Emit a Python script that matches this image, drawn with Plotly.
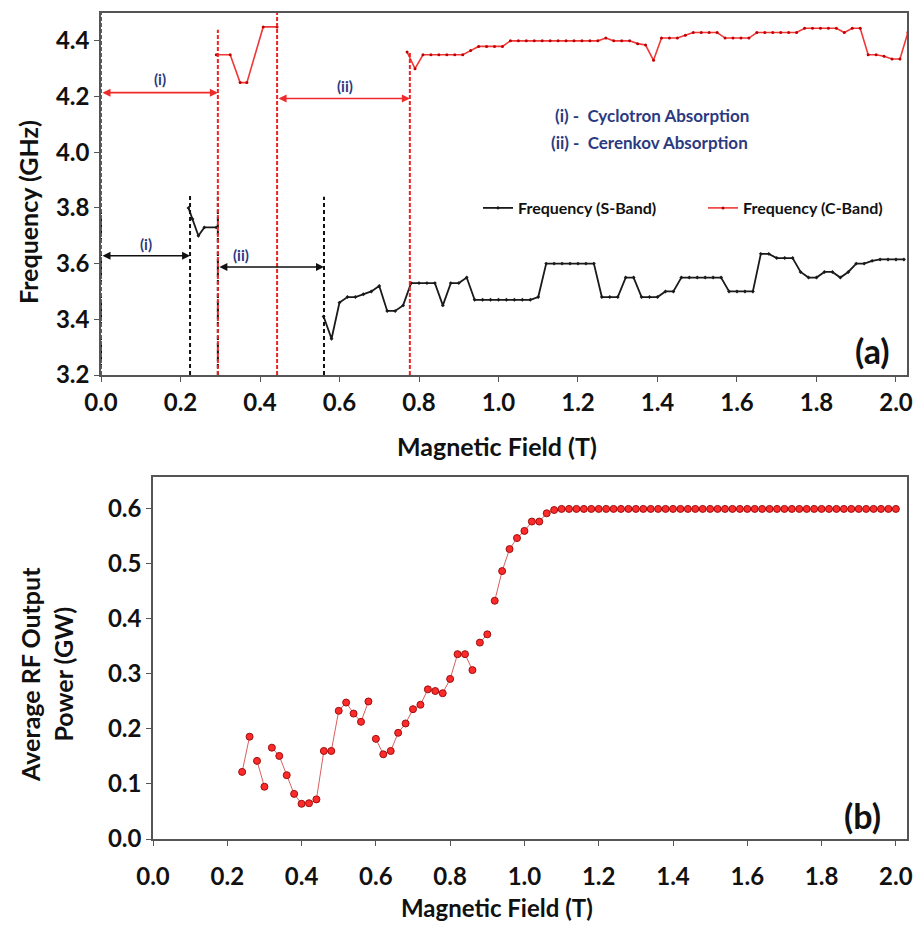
import plotly.graph_objects as go

# ---------------- data: panel (a) ----------------
s_band_x1 = [0.22, 0.23, 0.245, 0.26, 0.29]
s_band_y1 = [3.80, 3.76, 3.70, 3.73, 3.73]

s_band_x2 = [0.56, 0.58, 0.60, 0.62, 0.64, 0.66, 0.68, 0.70, 0.72, 0.74,
             0.76, 0.78, 0.80, 0.82, 0.84, 0.86, 0.88, 0.90, 0.92, 0.94,
             0.96, 0.98, 1.00, 1.02, 1.04, 1.06, 1.08, 1.10, 1.12, 1.14,
             1.16, 1.18, 1.20, 1.22, 1.24, 1.26, 1.28, 1.30, 1.32, 1.34,
             1.36, 1.38, 1.40, 1.42, 1.44, 1.46, 1.48, 1.50, 1.52, 1.54,
             1.56, 1.58, 1.60, 1.62, 1.64, 1.66, 1.68, 1.70, 1.72, 1.74,
             1.76, 1.78, 1.80, 1.82, 1.84, 1.86, 1.88, 1.90, 1.92, 1.94,
             1.96, 1.98, 2.00, 2.02]
s_band_y2 = [3.41, 3.33, 3.46, 3.48, 3.48, 3.49, 3.50, 3.52, 3.43, 3.43,
             3.45, 3.53, 3.53, 3.53, 3.53, 3.45, 3.53, 3.53, 3.55, 3.47,
             3.47, 3.47, 3.47, 3.47, 3.47, 3.47, 3.47, 3.48, 3.60, 3.60,
             3.60, 3.60, 3.60, 3.60, 3.60, 3.48, 3.48, 3.48, 3.55, 3.55,
             3.48, 3.48, 3.48, 3.50, 3.50, 3.55, 3.55, 3.55, 3.55, 3.55,
             3.55, 3.50, 3.50, 3.50, 3.50, 3.635, 3.635, 3.62, 3.62, 3.62,
             3.57, 3.55, 3.55, 3.57, 3.57, 3.55, 3.57, 3.60, 3.60, 3.61,
             3.615, 3.615, 3.615, 3.615]

c_band_x1 = [0.29, 0.325, 0.35, 0.367, 0.408, 0.443]
c_band_y1 = [4.35, 4.35, 4.25, 4.25, 4.45, 4.45]

c_band_x2 = [0.77, 0.79, 0.81, 0.83, 0.85, 0.87, 0.89, 0.91, 0.93, 0.95,
             0.97, 0.99, 1.01, 1.03, 1.05, 1.07, 1.09, 1.11, 1.13, 1.15,
             1.17, 1.19, 1.21, 1.23, 1.25, 1.27, 1.29, 1.31, 1.33, 1.35,
             1.37, 1.39, 1.41, 1.43, 1.45, 1.47, 1.49, 1.51, 1.53, 1.55,
             1.57, 1.59, 1.61, 1.63, 1.65, 1.67, 1.69, 1.71, 1.73, 1.75,
             1.77, 1.79, 1.81, 1.83, 1.85, 1.87, 1.89, 1.91, 1.93, 1.95,
             1.97, 1.99, 2.01, 2.03]
c_band_y2 = [4.36, 4.30, 4.35, 4.35, 4.35, 4.35, 4.35, 4.35, 4.365, 4.38,
             4.38, 4.38, 4.38, 4.40, 4.40, 4.40, 4.40, 4.40, 4.40, 4.40,
             4.40, 4.40, 4.40, 4.40, 4.40, 4.41, 4.40, 4.40, 4.40, 4.39,
             4.385, 4.33, 4.41, 4.41, 4.41, 4.42, 4.43, 4.43, 4.43, 4.43,
             4.41, 4.41, 4.41, 4.41, 4.43, 4.43, 4.43, 4.43, 4.43, 4.43,
             4.445, 4.445, 4.445, 4.445, 4.445, 4.43, 4.445, 4.445, 4.35, 4.35,
             4.345, 4.335, 4.335, 4.43]

# vertical dashed boundaries: (x, top frequency)
red_bound_x = [0.0, 0.294, 0.443, 0.777]
red_bound_top = [4.5, 4.44, 4.5, 4.36]
black_bound_x = [0.0, 0.224, 0.294, 0.561]
black_bound_top = [3.84, 3.845, 3.84, 3.84]

# double arrows: (start, end, level, label, label_x, label_y)
red_arrows = [(0.0, 0.294, 4.214, "(i)", 0.148, 4.262),
              (0.443, 0.777, 4.193, "(ii)", 0.614, 4.238)]
black_arrows = [(0.0, 0.224, 3.628, "(i)", 0.112, 3.670),
                (0.294, 0.561, 3.588, "(ii)", 0.352, 3.630)]

# ---------------- data: panel (b) ----------------
power_x = [0.24, 0.26, 0.28, 0.30, 0.32, 0.34, 0.36, 0.38, 0.40, 0.42,
           0.44, 0.46, 0.48, 0.50, 0.52, 0.54, 0.56, 0.58, 0.60, 0.62,
           0.64, 0.66, 0.68, 0.70, 0.72, 0.74, 0.76, 0.78, 0.80, 0.82,
           0.84, 0.86, 0.88, 0.90, 0.92, 0.94, 0.96, 0.98, 1.00, 1.02,
           1.04, 1.06, 1.08, 1.10, 1.12, 1.14, 1.16, 1.18, 1.20, 1.22,
           1.24, 1.26, 1.28, 1.30, 1.32, 1.34, 1.36, 1.38, 1.40, 1.42,
           1.44, 1.46, 1.48, 1.50, 1.52, 1.54, 1.56, 1.58, 1.60, 1.62,
           1.64, 1.66, 1.68, 1.70, 1.72, 1.74, 1.76, 1.78, 1.80, 1.82,
           1.84, 1.86, 1.88, 1.90, 1.92, 1.94, 1.96, 1.98, 2.00]
power_y = [0.122, 0.186, 0.142, 0.095, 0.166, 0.151, 0.116, 0.082, 0.064, 0.065,
           0.072, 0.160, 0.160, 0.233, 0.248, 0.228, 0.213, 0.250, 0.182, 0.154,
           0.160, 0.193, 0.210, 0.236, 0.244, 0.272, 0.269, 0.265, 0.291, 0.336,
           0.336, 0.307, 0.357, 0.372, 0.433, 0.487, 0.527, 0.547, 0.560, 0.577,
           0.577, 0.592, 0.598, 0.600, 0.600, 0.600, 0.600, 0.600, 0.600, 0.600,
           0.600, 0.600, 0.600, 0.600, 0.600, 0.600, 0.600, 0.600, 0.600, 0.600,
           0.600, 0.600, 0.600, 0.600, 0.600, 0.600, 0.600, 0.600, 0.600, 0.600,
           0.600, 0.600, 0.600, 0.600, 0.600, 0.600, 0.600, 0.600, 0.600, 0.600,
           0.600, 0.600, 0.600, 0.600, 0.600, 0.600, 0.600, 0.600, 0.600]
# connecting line is not drawn after these field values
power_line_gaps = [0.26, 0.30, 0.58, 0.86, 0.90]

x_ticks = [0.0, 0.2, 0.4, 0.6, 0.8, 1.0, 1.2, 1.4, 1.6, 1.8, 2.0]
freq_ticks = [3.2, 3.4, 3.6, 3.8, 4.0, 4.2, 4.4]
power_ticks = [0.0, 0.1, 0.2, 0.3, 0.4, 0.5, 0.6]

assert len(s_band_x2) == len(s_band_y2)
assert len(c_band_x2) == len(c_band_y2)
assert len(power_x) == len(power_y)

# ---------------- figure ----------------
FONT = "Lato"
NAVY = "#2b3a80"
RED = "#f03838"
RED_DARK = "#c00000"

fig = go.Figure()

sx = s_band_x1 + [None] + s_band_x2
sy = s_band_y1 + [None] + s_band_y2
cx = c_band_x1 + [None] + c_band_x2
cy = c_band_y1 + [None] + c_band_y2

fig.add_trace(go.Scatter(x=sx, y=sy, mode="lines+markers", name="Frequency (S-Band)",
                         line=dict(color="#1a1a1a", width=1.8),
                         marker=dict(color="#1a1a1a", size=3, symbol="diamond"),
                         xaxis="x", yaxis="y"))
fig.add_trace(go.Scatter(x=cx, y=cy, mode="lines+markers", name="Frequency (C-Band)",
                         line=dict(color=RED, width=1.6),
                         marker=dict(color=RED_DARK, size=3),
                         xaxis="x", yaxis="y"))

# power line with gaps
lx, ly = [], []
for xv, yv in zip(power_x, power_y):
    lx.append(xv)
    ly.append(yv)
    if xv in power_line_gaps:
        lx.append(None)
        ly.append(None)
fig.add_trace(go.Scatter(x=lx, y=ly, mode="lines", showlegend=False,
                         line=dict(color="#d86060", width=1),
                         xaxis="x2", yaxis="y2", connectgaps=False))
fig.add_trace(go.Scatter(x=power_x, y=power_y, mode="markers", showlegend=False,
                         marker=dict(color="#ff2a2a", size=7,
                                     line=dict(color="#9a1010", width=1)),
                         xaxis="x2", yaxis="y2"))

shapes = []
for xv, top in zip(black_bound_x, black_bound_top):
    shapes.append(dict(type="line", xref="x", yref="y", x0=xv, x1=xv, y0=3.2, y1=top,
                       line=dict(color="#111111", width=2, dash="4px,3px")))
for xv, top in zip(red_bound_x, red_bound_top):
    shapes.append(dict(type="line", xref="x", yref="y", x0=xv, x1=xv, y0=3.2, y1=top,
                       line=dict(color="#ee2222", width=2, dash="4px,2px")))

annotations = []
for arrows, col in ((red_arrows, "#ee2a2a"), (black_arrows, "#111111")):
    for a0, a1, lev, lab, lx_, ly_ in arrows:
        annotations.append(dict(x=a1, y=lev, ax=a0, ay=lev, xref="x", yref="y",
                                axref="x", ayref="y", text="", showarrow=True,
                                arrowhead=2, startarrowhead=2, arrowside="end+start",
                                arrowsize=1, arrowwidth=1.6, arrowcolor=col,
                                startstandoff=0, standoff=0))
        annotations.append(dict(x=lx_, y=ly_, xref="x", yref="y", text=lab,
                                showarrow=False, xanchor="center", yanchor="middle",
                                font=dict(family=FONT, size=15, color=NAVY, weight="bold")))


def paper_text(px, py, text, size, color="#111", angle=0, xanchor="center"):
    return dict(x=px / 915, y=1 - py / 925, xref="paper", yref="paper",
                xanchor=xanchor, yanchor="middle", text=text, showarrow=False,
                textangle=angle, font=dict(family=FONT, size=size, color=color, weight="bold"))


annotations += [
    paper_text(553, 115, "(i) -  Cyclotron Absorption", 17, NAVY, xanchor="left"),
    paper_text(549, 142, "(ii) -  Cerenkov Absorption", 17, NAVY, xanchor="left"),
    paper_text(872, 350, "(a)", 34),
    paper_text(862, 815, "(b)", 34),
    paper_text(497, 446, "Magnetic Field (T)", 25),
    paper_text(497, 907, "Magnetic Field (T)", 24),
    paper_text(28, 212, "Frequency (GHz)", 25, angle=-90),
    paper_text(46, 675, "Average RF Output<br>Power (GW)", 25, angle=-90),
]

axis_common = dict(showline=True, linecolor="#555555", linewidth=1.5, mirror=True,
                   ticks="outside", ticklen=5, tickcolor="#555555", tickwidth=1.2,
                   showgrid=False, zeroline=False, automargin=False,
                   ticklabeloverflow="allow",
                   tickfont=dict(family=FONT, size=24, color="#111", weight="bold"))

fig.update_layout(
    width=915, height=925, autosize=False,
    margin=dict(l=0, r=0, t=0, b=0, pad=0, autoexpand=False),
    paper_bgcolor="white", plot_bgcolor="white",
    xaxis=dict(domain=[101 / 915, 907 / 915], anchor="y", range=[0, 2.0277],
               tickvals=x_ticks, ticktext=[f"{v:.1f}" for v in x_ticks], **axis_common),
    yaxis=dict(domain=[1 - 375 / 925, 1 - 13 / 925], anchor="x", range=[3.2, 4.5],
               tickvals=freq_ticks, ticktext=[f"{v:.1f}" for v in freq_ticks], **axis_common),
    xaxis2=dict(domain=[153 / 915, 907 / 915], anchor="y2", range=[0, 2.03],
                tickvals=x_ticks, ticktext=[f"{v:.1f}" for v in x_ticks],
                ticklabelstandoff=10, **axis_common),
    yaxis2=dict(domain=[1 - 839 / 925, 1 - 477 / 925], anchor="x2", range=[0, 0.658],
                tickvals=power_ticks, ticktext=[f"{v:.1f}" for v in power_ticks], **axis_common),
    shapes=shapes,
    annotations=annotations,
    showlegend=True,
    legend=dict(orientation="h", x=478 / 915, y=1 - 208 / 925, xanchor="left",
                yanchor="middle", bgcolor="rgba(0,0,0,0)", entrywidth=180,
                entrywidthmode="pixels", itemwidth=30,
                font=dict(family=FONT, size=16, color="#111", weight="bold")),
)

fig.write_html("out.html")
